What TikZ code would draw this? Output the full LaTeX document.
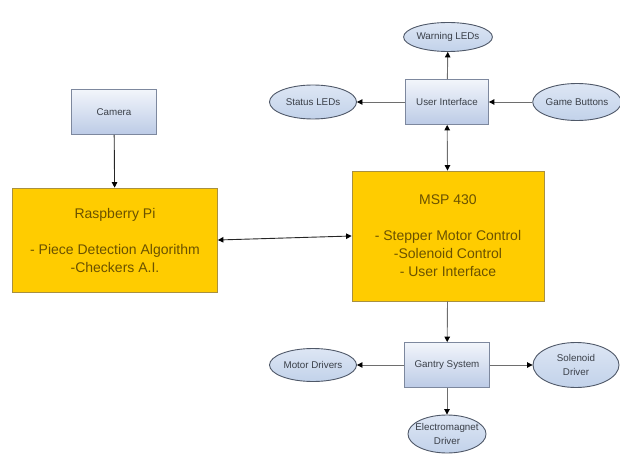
\documentclass[tikz,border=0pt]{standalone}
\usepackage{fontspec}
\setmainfont{Liberation Sans}
\usetikzlibrary{arrows.meta,shapes.geometric}
\definecolor{mcu}{HTML}{FFCC00}
\definecolor{mcuedge}{HTML}{A89040}
\definecolor{mcutext}{HTML}{6B5200}
\definecolor{unittop}{HTML}{F2F5FB}
\definecolor{unitbot}{HTML}{BCCBE6}
\definecolor{unitedge}{HTML}{7D889E}
\definecolor{periphtop}{HTML}{DDE6F4}
\definecolor{periphfill}{HTML}{C2D2EA}
\definecolor{periphedge}{HTML}{4F5868}
\definecolor{labtext}{HTML}{3A3F48}
\definecolor{wire}{HTML}{6E6E6E}
\tikzset{
  mcubox/.style={draw=mcuedge, fill=mcu, text=mcutext, line width=0.8pt,
    align=center, inner sep=0pt, font=\fontsize{14}{18}\selectfont},
  unit/.style={draw=unitedge, top color=unittop, bottom color=unitbot,
    line width=0.8pt, text=labtext, inner sep=0pt,
    minimum width=85pt, minimum height=45pt, font=\fontsize{9.8}{12}\selectfont},
  periph/.style={ellipse, draw=periphedge, top color=periphtop, bottom color=periphfill,
    line width=0.9pt, text=labtext, inner sep=0pt, align=center,
    font=\fontsize{9.8}{14}\selectfont},
  tip/.tip={Triangle[width=5.5pt,length=5.5pt,color=black]},
  link/.style={draw=wire, line width=0.9pt, -tip},
  dark/.style={draw=black!85, line width=0.9pt, -tip},
  twoway/.style={tip-tip},
}
\begin{document}
\begin{tikzpicture}[x=1pt,y=-1pt]
  \useasboundingbox (0,0) rectangle (620,462);
  % main controllers
  \node[mcubox, minimum width=205pt, minimum height=104pt] (rpi) at (115,240)
    {Raspberry Pi\\[18pt]- Piece Detection Algorithm\\-Checkers A.I.};
  \node[mcubox, minimum width=192pt, minimum height=130pt] (msp) at (448,236)
    {MSP 430\\[18pt]- Stepper Motor Control\\-Solenoid Control\\- User Interface};
  % blue units
  \node[unit] (camera) at (114,112) {Camera};
  \node[unit, minimum width=83pt] (ui) at (447,102) {User Interface};
  \node[unit] (gantry) at (447,365) {Gantry System};
  % peripherals
  \node[periph, minimum width=84pt, minimum height=29pt] (warn) at (448,37) {Warning LEDs};
  \node[periph, minimum width=87pt, minimum height=34pt] (status) at (313,102) {Status LEDs};
  \node[periph, minimum width=85pt, minimum height=37pt] (buttons) at (577,102) {Game Buttons};
  \node[periph, minimum width=87pt, minimum height=33pt] (motor) at (313,365) {Motor Drivers};
  \node[periph, minimum width=86pt, minimum height=45pt] (solenoid) at (576,365) {Solenoid\\Driver};
  \node[periph, minimum width=78pt, minimum height=38pt, inner xsep=-4pt] (magnet) at (447,434)
    {Electromagnet\\Driver};
  % connections
  \draw[dark] (camera) -- (rpi);
  \draw[dark, twoway] (rpi.east) -- (msp.west);
  \draw[link, twoway] (ui) -- (msp);
  \draw[link] (ui) -- (warn);
  \draw[link] (ui) -- (status);
  \draw[link] (buttons) -- (ui);
  \draw[link] (msp) -- (gantry);
  \draw[link] (gantry) -- (motor);
  \draw[link] (gantry) -- (solenoid);
  \draw[link] (gantry) -- (magnet);
\end{tikzpicture}
\end{document}
